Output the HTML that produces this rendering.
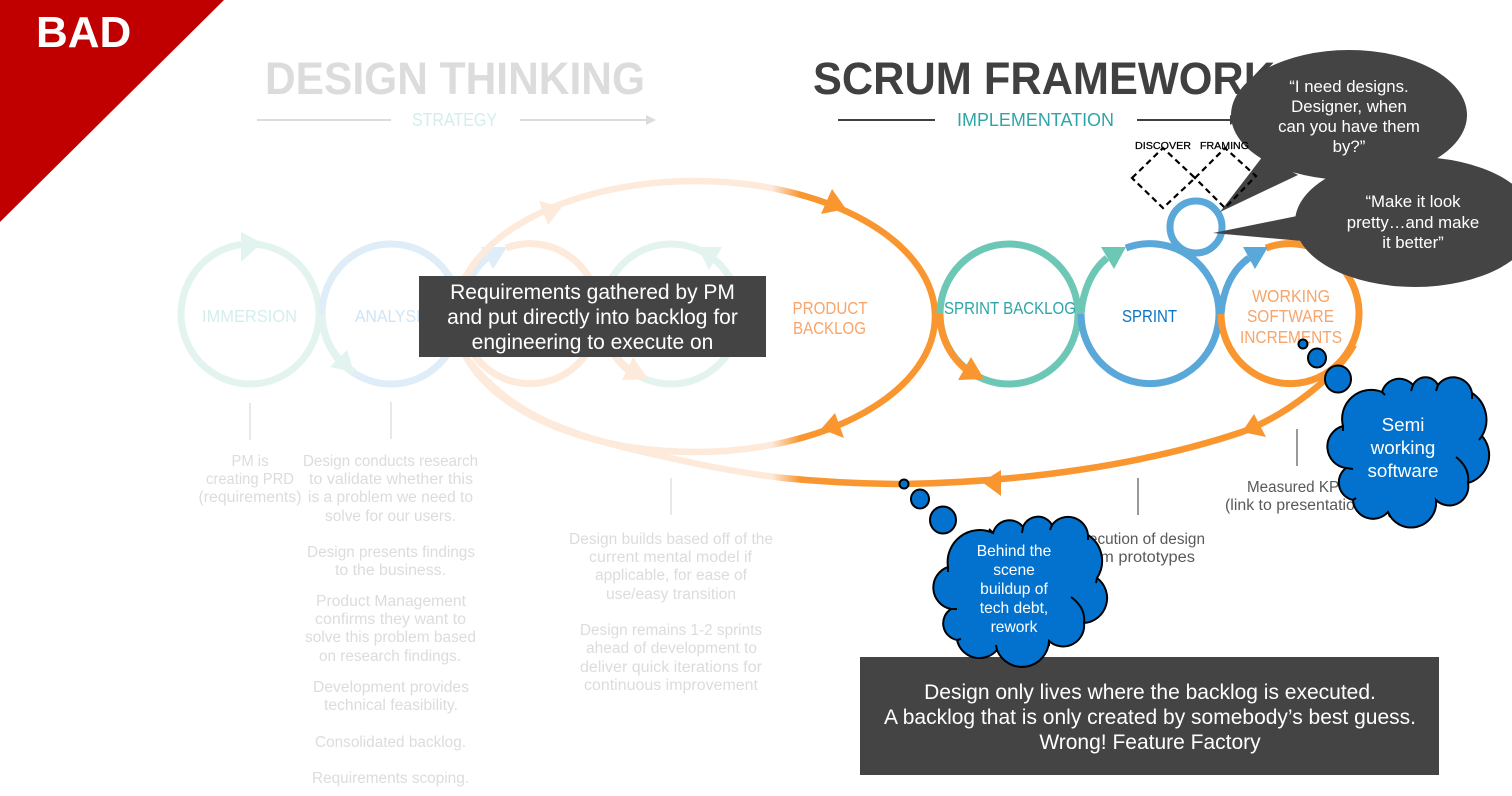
<!DOCTYPE html>
<html lang="en">
<head>
<meta charset="utf-8">
<title>Bad process: Design Thinking and Scrum Framework</title>
<style>
html,body{margin:0;padding:0;background:#fff;width:1512px;height:796px;overflow:hidden}
svg{display:block}
text{font-family:"Liberation Sans",Arial,sans-serif}
.b text{font-size:15.5px;fill:#dcdcdc;text-anchor:middle}
.d text{font-size:15.5px;fill:#595959;text-anchor:middle}
.l{font-size:17.5px;text-anchor:middle}
.w text{fill:#fff;text-anchor:middle}
</style>
</head>
<body>
<svg width="1512" height="796" viewBox="0 0 1512 796" xmlns="http://www.w3.org/2000/svg">
<defs>
<linearGradient id="g" gradientUnits="userSpaceOnUse" x1="772" y1="0" x2="800" y2="0">
<stop offset="0" stop-color="#fdeadb"/><stop offset="1" stop-color="#f9962f"/>
</linearGradient>
</defs>
<rect width="1512" height="796" fill="#fff"/>

<!-- titles -->
<text x="265" y="94" font-size="45" font-weight="700" fill="#dcdcdc" textLength="380" lengthAdjust="spacingAndGlyphs">DESIGN THINKING</text>
<text x="813" y="94" font-size="45" font-weight="700" fill="#404040" textLength="462" lengthAdjust="spacingAndGlyphs">SCRUM FRAMEWORK</text>
<text x="412" y="126" font-size="18" fill="#d3eded" textLength="85" lengthAdjust="spacingAndGlyphs">STRATEGY</text>
<text x="957" y="126" font-size="18" fill="#2ea5a8" textLength="157" lengthAdjust="spacingAndGlyphs">IMPLEMENTATION</text>
<path d="M257 120H391M520 120H648" stroke="#dcdcdc" stroke-width="2" fill="none"/>
<path d="M646 115L656 120L646 125Z" fill="#dcdcdc"/>
<path d="M838 120H935M1137 120H1232" stroke="#404040" stroke-width="2" fill="none"/>
<path d="M1230 115L1238 120L1230 125Z" fill="#404040"/>

<!-- faded circles -->
<g fill="none" stroke-width="7">
<ellipse cx="250" cy="314" rx="69" ry="70" stroke="#e3f3ef"/>
<ellipse cx="391" cy="314" rx="69" ry="70" stroke="#deedf8"/>
<path d="M322 314A69 70 0 0 0 354 372" stroke="#e3f3ef"/>
<path d="M506 248A69 70 0 1 1 461 314" stroke="#fdeadb"/>
<path d="M461 314C463 290 472 270 487 258" stroke="#deedf8"/>
<ellipse cx="671" cy="314" rx="69" ry="70" stroke="#e3f3ef"/>
<path d="M602 314A69 70 0 0 0 637 376" stroke="#fdeadb"/>
</g>
<path d="M241 232L241 262L262 243Z" fill="#e3f3ef"/>
<path d="M347 350L330 367L354 372Z" fill="#e3f3ef"/>
<path d="M481 247L507 247L493 269Z" fill="#deedf8"/>
<path d="M698 247L722 247L709 270Z" fill="#e3f3ef"/>
<path d="M633 357L622 380L648 379Z" fill="#fdeadb"/>

<!-- big loop -->
<ellipse cx="695" cy="316.5" rx="240" ry="135.5" fill="none" stroke="url(#g)" stroke-width="6.5"/>
<path d="M470 362C497 395 525 412 550 423C585 438 620 447 657 455C700 465 740 473 783 478C825 482 865 484 904 484C1020 482 1140 466 1242 432C1285 416 1335 378 1354 345" fill="none" stroke="url(#g)" stroke-width="6.5"/>
<path d="M539 201L548 225L562 207Z" fill="#fdeadb"/>
<path d="M832 189L821 214L846 209Z" fill="#f9962f"/>
<path d="M835 413L821 429L844 438Z" fill="#f9962f"/>
<path d="M1001 470L1001 496L982 482Z" fill="#f9962f"/>
<path d="M1254 414L1266 437L1242 432Z" fill="#f9962f"/>

<!-- scrum circles -->
<g fill="none" stroke-width="7">
<ellipse cx="1009" cy="314" rx="69" ry="70" stroke="#6dc7b5"/>
<path d="M940 314A69 70 0 0 0 978 377" stroke="#f9962f"/>
<path d="M1126 248A69 70 0 1 1 1081 314" stroke="#5aa7d9"/>
<path d="M1081 314C1083 290 1092 270 1107 258" stroke="#6dc7b5"/>
<path d="M1266 248A69 70 0 1 1 1221 314" stroke="#f9962f"/>
<path d="M1221 314C1223 290 1232 270 1249 258" stroke="#5aa7d9"/>
<circle cx="1196" cy="227" r="26" stroke="#5aa7d9"/>
</g>
<path d="M971 357L958 380L984 379Z" fill="#f9962f"/>
<path d="M1101 247L1126 247L1114 269Z" fill="#6dc7b5"/>
<path d="M1243 247L1268 247L1255 269Z" fill="#5aa7d9"/>

<!-- circle labels -->
<text class="l" x="249.5" y="322" fill="#d4eeee" textLength="95" lengthAdjust="spacingAndGlyphs">IMMERSION</text>
<text class="l" x="393" y="322" fill="#cfe4f5" textLength="76" lengthAdjust="spacingAndGlyphs">ANALYSIS</text>
<text class="l" x="830" y="314" fill="#f7a56a" textLength="75" lengthAdjust="spacingAndGlyphs">PRODUCT</text>
<text class="l" x="829.5" y="334" fill="#f7a56a" textLength="73" lengthAdjust="spacingAndGlyphs">BACKLOG</text>
<text class="l" x="1010" y="314" fill="#2ea5a8" textLength="132" lengthAdjust="spacingAndGlyphs">SPRINT BACKLOG</text>
<text class="l" x="1149.5" y="322" fill="#0b74c4" textLength="55" lengthAdjust="spacingAndGlyphs">SPRINT</text>
<text class="l" x="1291" y="302" fill="#f7a56a" textLength="78" lengthAdjust="spacingAndGlyphs">WORKING</text>
<text class="l" x="1290.5" y="322" fill="#f7a56a" textLength="87" lengthAdjust="spacingAndGlyphs">SOFTWARE</text>
<text class="l" x="1291" y="343" fill="#f7a56a" textLength="102" lengthAdjust="spacingAndGlyphs">INCREMENTS</text>

<!-- vertical ticks -->
<path d="M250 403V440M391 402V439M671 478V515" stroke="#e8e8e8" stroke-width="2"/>
<path d="M1138 478V515M1297 429V466" stroke="#999" stroke-width="2"/>

<!-- faded descriptions -->
<g class="b">
<text x="250" y="466" textLength="37" lengthAdjust="spacingAndGlyphs">PM is</text>
<text x="250" y="484" textLength="88" lengthAdjust="spacingAndGlyphs">creating PRD</text>
<text x="250" y="502" textLength="103" lengthAdjust="spacingAndGlyphs">(requirements)</text>
<text x="390.5" y="466" textLength="175" lengthAdjust="spacingAndGlyphs">Design conducts research</text>
<text x="391" y="484" textLength="164" lengthAdjust="spacingAndGlyphs">to validate whether this</text>
<text x="390.5" y="502" textLength="165" lengthAdjust="spacingAndGlyphs">is a problem we need to</text>
<text x="390.5" y="521" textLength="131" lengthAdjust="spacingAndGlyphs">solve for our users.</text>
<text x="391" y="557" textLength="168" lengthAdjust="spacingAndGlyphs">Design presents findings</text>
<text x="390.5" y="575" textLength="111" lengthAdjust="spacingAndGlyphs">to the business.</text>
<text x="391" y="606" textLength="150" lengthAdjust="spacingAndGlyphs">Product Management</text>
<text x="390.5" y="624" textLength="151" lengthAdjust="spacingAndGlyphs">confirms they want to</text>
<text x="390.5" y="642" textLength="171" lengthAdjust="spacingAndGlyphs">solve this problem based</text>
<text x="390" y="661" textLength="142" lengthAdjust="spacingAndGlyphs">on research findings.</text>
<text x="391" y="692" textLength="156" lengthAdjust="spacingAndGlyphs">Development provides</text>
<text x="391" y="710" textLength="134" lengthAdjust="spacingAndGlyphs">technical feasibility.</text>
<text x="390.5" y="747" textLength="151" lengthAdjust="spacingAndGlyphs">Consolidated backlog.</text>
<text x="390.5" y="783" textLength="157" lengthAdjust="spacingAndGlyphs">Requirements scoping.</text>
<text x="671" y="544" textLength="204" lengthAdjust="spacingAndGlyphs">Design builds based off of the</text>
<text x="670.5" y="562" textLength="163" lengthAdjust="spacingAndGlyphs">current mental model if</text>
<text x="671" y="580" textLength="152" lengthAdjust="spacingAndGlyphs">applicable, for ease of</text>
<text x="671" y="599" textLength="130" lengthAdjust="spacingAndGlyphs">use/easy transition</text>
<text x="671" y="635" textLength="182" lengthAdjust="spacingAndGlyphs">Design remains 1-2 sprints</text>
<text x="671.5" y="653" textLength="171" lengthAdjust="spacingAndGlyphs">ahead of development to</text>
<text x="671" y="672" textLength="182" lengthAdjust="spacingAndGlyphs">deliver quick iterations for</text>
<text x="671" y="690" textLength="174" lengthAdjust="spacingAndGlyphs">continuous improvement</text>
</g>
<g class="d">
<text x="1299" y="492" textLength="104" lengthAdjust="spacingAndGlyphs">Measured KPIs</text>
<text x="1297" y="510" textLength="144" lengthAdjust="spacingAndGlyphs">(link to presentation)</text>
<text x="1138" y="544" textLength="134" lengthAdjust="spacingAndGlyphs">Execution of design</text>
<text x="1138" y="562" textLength="114" lengthAdjust="spacingAndGlyphs">from prototypes</text>
</g>

<!-- text boxes -->
<rect x="419" y="276" width="347" height="81" fill="#444"/>
<g class="w" font-size="21">
<text x="592.5" y="299">Requirements gathered by PM</text>
<text x="592.5" y="324">and put directly into backlog for</text>
<text x="592.5" y="349">engineering to execute on</text>
</g>
<rect x="860" y="657" width="579" height="118" fill="#444"/>
<g class="w" font-size="21">
<text x="1150" y="699">Design only lives where the backlog is executed.</text>
<text x="1150" y="724">A backlog that is only created by somebody’s best guess.</text>
<text x="1150" y="749">Wrong! Feature Factory</text>
</g>

<!-- speech bubbles -->
<g fill="#444">
<ellipse cx="1349" cy="115" rx="118" ry="65"/>
<path d="M1220 212L1263 156L1298 175Z"/>
<ellipse cx="1415" cy="222" rx="120" ry="65"/>
<path d="M1213 233L1297 216L1302 241Z"/>
</g>
<g class="w" font-size="16.8">
<text x="1349" y="92">“I need designs.</text>
<text x="1349" y="112">Designer, when</text>
<text x="1349" y="132">can you have them</text>
<text x="1349" y="152">by?”</text>
<text x="1413" y="207">“Make it look</text>
<text x="1413" y="228">pretty…and make</text>
<text x="1413" y="248">it better”</text>
</g>

<!-- discover / framing -->
<path d="M1132 178L1163 148L1195 178L1163 208ZM1195 178L1225 148L1256 176L1225 208Z" fill="none" stroke="#000" stroke-width="2.2" stroke-dasharray="6 4"/>
<text x="1135" y="149" font-size="10.5" fill="#000" stroke="#000" stroke-width=".25" textLength="56" lengthAdjust="spacingAndGlyphs">DISCOVER</text>
<text x="1200" y="149" font-size="10.5" fill="#000" stroke="#000" stroke-width=".25" textLength="49" lengthAdjust="spacingAndGlyphs">FRAMING</text>

<!-- thought clouds -->
<g fill="#0372ce" stroke="#000" stroke-width="2">
<circle cx="1303" cy="344" r="4.5"/>
<ellipse cx="1317" cy="358" rx="9" ry="9.5"/>
<ellipse cx="1338" cy="379" rx="13" ry="13.5"/>
<circle cx="904" cy="484" r="4.5"/>
<ellipse cx="920" cy="499" rx="9" ry="9.5"/>
<ellipse cx="943" cy="520" rx="13" ry="13.5"/>
<path d="M1343 426A29 29 0 0 1 1382 392A18 18 0 0 1 1413 385A14 14 0 0 1 1438 385A19 19 0 0 1 1472 393A32 32 0 0 1 1482 436A29 29 0 0 1 1468 483A19 19 0 0 1 1436 500A25 25 0 0 1 1388 512A20 20 0 0 1 1353 500A18 18 0 0 1 1346 468A21.5 21.5 0 0 1 1343 426Z"/>
<path d="M948 567A32 32 0 0 1 993 533A17 17 0 0 1 1023 527A16 16 0 0 1 1052 525A20 20 0 0 1 1088 535A31 31 0 0 1 1097 578A25 25 0 0 1 1084 623A21 21 0 0 1 1049 641A27 27 0 0 1 997 650A23 23 0 0 1 957 640A17 17 0 0 1 951 609A21.8 21.8 0 0 1 948 567Z"/>
</g>
<path d="M1456 457Q1470 468 1468 483M1346 468L1353 469M1343 426L1343 431M1382 392L1385 395M1413 385L1411 391M1438 385L1436 391M1472 393L1472 399M1482 436L1479 440M1436 500L1436 506M1388 512L1390 517M1353 500L1356 498" fill="none" stroke="#000" stroke-width="2"/>
<path d="M1071 597Q1086 608 1084 623M951 609L957 609M948 567L948 572M993 533L989 529M1023 527L1022 533M1052 525L1050 530M1088 535L1088 540M1097 578L1096 583M1049 641L1049 646M997 650L996 645M957 640L961 639" fill="none" stroke="#000" stroke-width="2"/>
<g class="w" font-size="18.8">
<text x="1403" y="431">Semi</text>
<text x="1403" y="454">working</text>
<text x="1403" y="477">software</text>
</g>
<g class="w" font-size="15.6">
<text x="1014" y="556">Behind the</text>
<text x="1014" y="575">scene</text>
<text x="1014" y="594">buildup of</text>
<text x="1014" y="613">tech debt,</text>
<text x="1014" y="632">rework</text>
</g>

<!-- BAD banner -->
<path d="M0 0H224L0 222Z" fill="#c00000"/>
<text x="36" y="47" font-size="44" font-weight="700" fill="#fff">BAD</text>
</svg>
</body>
</html>
